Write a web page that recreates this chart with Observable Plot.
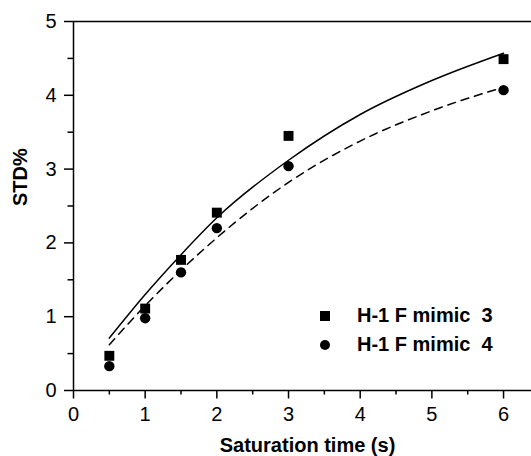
<!DOCTYPE html>
<html>
<head>
<meta charset="utf-8">
<script src="https://cdn.jsdelivr.net/npm/d3@7"></script>
<script src="https://cdn.jsdelivr.net/npm/@observablehq/plot@0.6"></script>
<style>
  html, body { margin: 0; padding: 0; background: #fff; }
  #wrap { position: relative; width: 531px; height: 456px; font-family: "Liberation Sans", Arial, sans-serif; }
  .lg { position: absolute; font-weight: bold; font-size: 20px; line-height: 20px; color: #000; white-space: pre; }
  .lgsym { position: absolute; background: #000; }
</style>
</head>
<body>
<div id="wrap"></div>
<script>
// Measured points
const times = [0.5, 1, 1.5, 2, 3, 6];
const mimic3 = [0.47, 1.11, 1.77, 2.41, 3.45, 4.49];
const mimic4 = [0.33, 0.98, 1.60, 2.20, 3.04, 4.07];
// Fit curves
const fitTimes = [0.5, 1, 1.5, 2, 3, 4, 5, 6];
const fit3 = [0.71, 1.30, 1.84, 2.34, 3.12, 3.74, 4.20, 4.57];
const fit4 = [0.62, 1.15, 1.63, 2.07, 2.82, 3.38, 3.79, 4.11];
const seriesNames = ["H-1 F mimic", "H-1 F mimic"];
const seriesNums = ["3", "4"];
const xTicks = [0, 1, 2, 3, 4, 5, 6];
const xMinor = [0.5, 1.5, 2.5, 3.5, 4.5, 5.5];
const yTicks = [0, 1, 2, 3, 4, 5];
const yMinor = [0.5, 1.5, 2.5, 3.5, 4.5];

const pts3 = times.map((t, i) => ({t, v: mimic3[i]}));
const pts4 = times.map((t, i) => ({t, v: mimic4[i]}));
const f3 = fitTimes.map((t, i) => ({t, v: fit3[i]}));
const f4 = fitTimes.map((t, i) => ({t, v: fit4[i]}));

const plot = Plot.plot({
  width: 531,
  height: 456,
  marginLeft: 73,
  marginRight: 0,
  marginTop: 21,
  marginBottom: 66,
  style: {fontFamily: "Liberation Sans, Arial, sans-serif", fontSize: "20px", color: "#000", background: "#fff"},
  x: {domain: [0, 6.39]},
  y: {domain: [0, 5]},
  marks: [
    Plot.axisX({ticks: xMinor, tickSize: 4.5, tickFormat: () => "", strokeWidth: 1.5, label: null}),
    Plot.axisX({ticks: xTicks, tickSize: 8.5, tickPadding: 8, tickFormat: d => String(d), strokeWidth: 1.5, fontSize: 20, label: null}),
    Plot.axisY({ticks: yMinor, tickSize: 5.5, tickFormat: () => "", strokeWidth: 1.5, label: null}),
    Plot.axisY({ticks: yTicks, tickSize: 9, tickPadding: 8, tickFormat: d => String(d), strokeWidth: 1.5, fontSize: 20, label: null}),
    Plot.ruleY([0], {strokeWidth: 1.5}),
    Plot.ruleY([5], {strokeWidth: 1.5}),
    Plot.ruleX([0], {strokeWidth: 1.5}),
    Plot.line(f3, {x: "t", y: "v", curve: "monotone-x", stroke: "#000", strokeWidth: 1.5}),
    Plot.line(f4, {x: "t", y: "v", curve: "monotone-x", stroke: "#000", strokeWidth: 1.5, strokeDasharray: "8,6"}),
    Plot.dot(pts3, {x: "t", y: "v", symbol: "square", r: 5.6, fill: "#000", stroke: "none"}),
    Plot.dot(pts4, {x: "t", y: "v", symbol: "circle", r: 5.2, fill: "#000", stroke: "none"}),
    Plot.text(["Saturation time (s)"], {frameAnchor: "bottom", dy: 61, dx: 5, text: d => d, fontWeight: "bold", fontSize: 20}),
    Plot.text(["STD%"], {frameAnchor: "left", dx: -53, rotate: -90, text: d => d, fontWeight: "bold", fontSize: 20})
  ]
});
const wrap = document.getElementById("wrap");
wrap.appendChild(plot);

seriesNames.forEach((n, i) => {
  const top = 305 + i * 29;
  const sym = document.createElement("div");
  sym.className = "lgsym";
  Object.assign(sym.style, {left: "320px", top: (top + 6) + "px", width: "10px", height: "10px", borderRadius: i === 0 ? "0" : "50%"});
  wrap.appendChild(sym);
  const t = document.createElement("div");
  t.className = "lg";
  t.style.left = "357px";
  t.style.top = top + "px";
  t.textContent = n + "  " + seriesNums[i];
  wrap.appendChild(t);
});
</script>
</body>
</html>
